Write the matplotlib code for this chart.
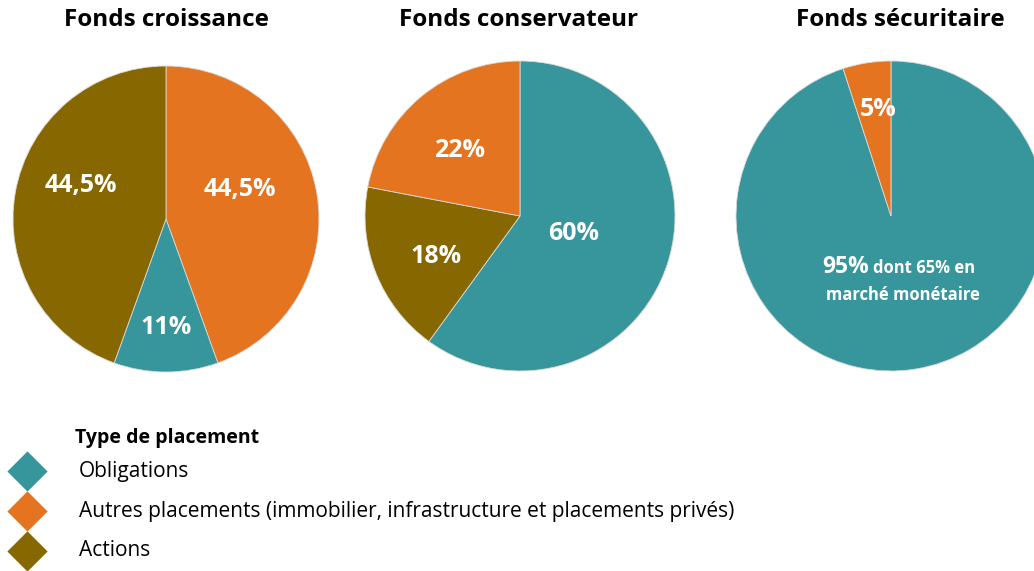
import numpy as np
import matplotlib.pyplot as plt

plt.rcParams['font.family'] = ['Open Sans', 'DejaVu Sans']

# couleurs par type de placement
col_oblig = '#37969b'
col_autres = '#e4741f'
col_actions = '#876800'

titles = ['Fonds croissance', 'Fonds conservateur', 'Fonds sécuritaire']

# valeurs en sens horaire depuis midi
croissance_vals = [44.5, 11, 44.5]
croissance_cols = [col_autres, col_oblig, col_actions]
croissance_lbls = ['44,5%', '11%', '44,5%']

conserv_vals = [60, 18, 22]
conserv_cols = [col_oblig, col_actions, col_autres]
conserv_lbls = ['60%', '18%', '22%']

secu_vals = [95, 5]
secu_cols = [col_oblig, col_autres]
secu_lbls = ['95%', '5%']

legend_title = 'Type de placement'
legend_names = ['Obligations',
                'Autres placements (immobilier, infrastructure et placements privés)',
                'Actions']
legend_cols = [col_oblig, col_autres, col_actions]

W, H = 1034, 571
fig = plt.figure(figsize=(W / 100, H / 100), dpi=100)
ax = fig.add_axes([0, 0, 1, 1])

# (valeurs, couleurs, etiquettes, centre, rayon, distance etiquette, decalage angle)
pies = [
    (croissance_vals, croissance_cols, croissance_lbls, (166, H - 219), 153,
     [0.52, 0.71, 0.60], [11.5, 0, -11.7]),
    (conserv_vals, conserv_cols, conserv_lbls, (520, H - 216), 155,
     [0.365, 0.60, 0.575], [0.5, 4.4, 2.7]),
    (secu_vals, secu_cols, secu_lbls, (891, H - 216), 155,
     [0.45, 0.69], [0, -2]),
]
title_x = [166, 519, 900]

for (vals, cols, lbls, c, r, dists, offs), title, tx in zip(pies, titles, title_x):
    wedges, _ = ax.pie(vals, colors=cols, startangle=90, counterclock=False,
                       center=c, radius=r,
                       wedgeprops=dict(linewidth=0.6, edgecolor='#d9d9d9'))
    for w, lab, d, o in zip(wedges, lbls, dists, offs):
        ang = np.deg2rad((w.theta1 + w.theta2) / 2 + o)
        x = c[0] + d * r * np.cos(ang)
        y = c[1] + d * r * np.sin(ang)
        if lab == '95%':
            y0 = c[1] - 51
            ax.text(c[0] - 69, y0, lab, color='white', fontsize=16.5, fontweight='bold',
                    ha='left', va='center')
            ax.text(c[0] - 18, y0 - 1, 'dont 65% en', color='white', fontsize=12,
                    fontweight='bold', ha='left', va='center')
            ax.text(c[0] + 11.5, y0 - 28, 'marché monétaire', color='white', fontsize=12,
                    fontweight='bold', ha='center', va='center')
        else:
            ax.text(x, y, lab, color='white', fontsize=18, fontweight='bold',
                    ha='center', va='center')
    ax.text(tx, H - 20, title, fontsize=17.5, fontweight='bold',
            ha='center', va='center', color='black')

# légende
ax.text(75, H - 438, legend_title, fontsize=14, fontweight='bold',
        ha='left', va='center')
legend_y = [471, 511, 551]
for name, col, ly in zip(legend_names, legend_cols, legend_y):
    ax.scatter([27], [H - ly], marker='D', s=20.5 ** 2, color=col, linewidths=0)
    ax.text(79, H - ly, name, fontsize=15, ha='left', va='center')

ax.set_xlim(0, W)
ax.set_ylim(0, H)
ax.set_aspect('equal')
ax.axis('off')

fig.savefig('out.png', dpi=100)
